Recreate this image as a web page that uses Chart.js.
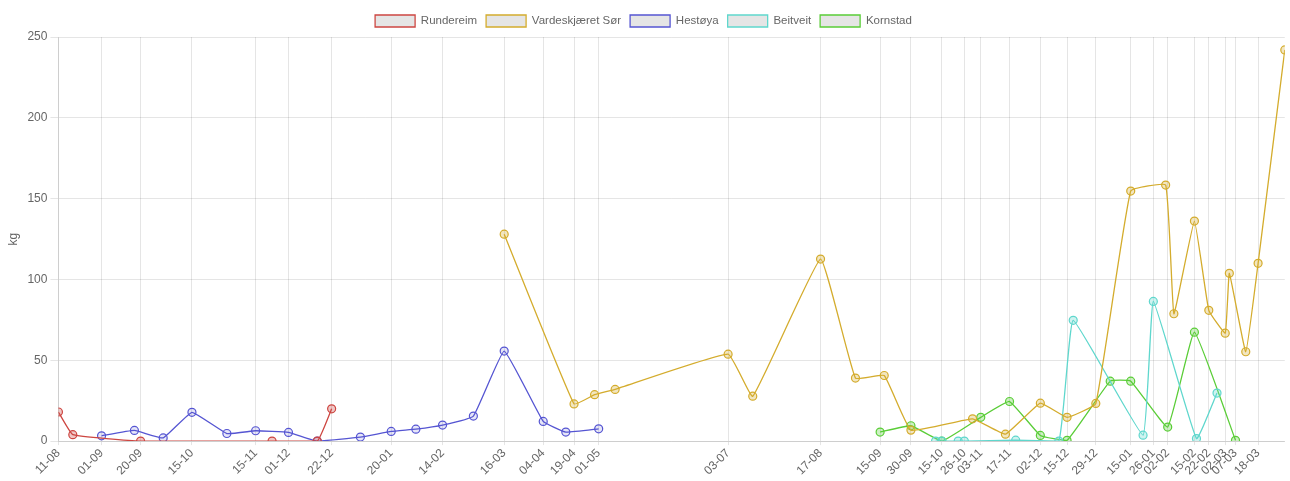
<!DOCTYPE html>
<html>
<head>
<meta charset="utf-8">
<script src="https://cdn.jsdelivr.net/npm/chart.js@4/dist/chart.umd.min.js"></script>
<style>
html,body{margin:0;padding:0;background:#fff;}
#wrap{position:relative;width:1290px;height:481px;}
</style>
</head>
<body>
<div id="wrap"><canvas id="c"></canvas></div>
<script>
const rundereimDates = ['2021-08-11','2021-08-18','2021-09-20','2021-11-23','2021-12-15','2021-12-22'];
const rundereimKg = [18,4,0,0,0,20];

const vardeDates = ['2022-03-16','2022-04-19','2022-04-29','2022-05-09','2022-07-03','2022-07-15','2022-08-17','2022-09-03','2022-09-17','2022-09-30','2022-10-30','2022-11-15','2022-12-02','2022-12-15','2022-12-29','2023-01-15','2023-02-01','2023-02-05','2023-02-15','2023-02-22','2023-03-02','2023-03-04','2023-03-12','2023-03-18','2023-03-31'];
const vardeKg = [128,23,28.7,32,53.8,27.8,112.6,39,40.6,6.8,13.8,4.3,23.5,14.7,23.3,154.7,158.4,78.8,136.1,80.9,66.8,103.8,55.3,110,242];

const hestoyaDates = ['2021-09-01','2021-09-17','2021-10-01','2021-10-15','2021-11-01','2021-11-15','2021-12-01','2021-12-15','2022-01-05','2022-01-20','2022-02-01','2022-02-14','2022-03-01','2022-03-16','2022-04-04','2022-04-15','2022-05-01'];
const hestoyaKg = [3.3,6.6,2,17.8,4.7,6.4,5.4,0,2.5,6,7.4,9.9,15.5,55.7,12.2,5.6,7.6];

const beitveitDates = ['2022-10-12','2022-10-15','2022-10-23','2022-10-26','2022-11-20','2022-12-11','2022-12-18','2023-01-21','2023-01-26','2023-02-16','2023-02-26'];
const beitveitKg = [0,0,0,0,0.6,0,74.7,3.7,86.4,1.6,29.7];

const kornstadDates = ['2022-09-15','2022-09-30','2022-10-15','2022-11-03','2022-11-17','2022-12-02','2022-12-15','2023-01-05','2023-01-15','2023-02-02','2023-02-15','2023-03-07'];
const kornstadKg = [5.6,9.5,0,14.7,24.5,3.5,0.5,37.1,37.1,8.7,67.4,0.5];

const tickDates = ['2021-08-11','2021-09-01','2021-09-20','2021-10-15','2021-11-15','2021-12-01','2021-12-22','2022-01-20','2022-02-14','2022-03-16','2022-04-04','2022-04-19','2022-05-01','2022-07-03','2022-08-17','2022-09-15','2022-09-30','2022-10-15','2022-10-26','2022-11-03','2022-11-17','2022-12-02','2022-12-15','2022-12-29','2023-01-15','2023-01-26','2023-02-02','2023-02-15','2023-02-22','2023-03-02','2023-03-07','2023-03-18'];

const seriesNames = ['Rundereim','Vardeskjæret Sør','Hestøya','Beitveit','Kornstad'];
const seriesColors = ['rgb(205,70,65)','rgb(212,172,45)','rgb(85,85,210)','rgb(95,215,205)','rgb(90,205,55)'];
const seriesFills = ['rgba(205,70,65,0.3)','rgba(212,172,45,0.3)','rgba(85,85,210,0.15)','rgba(95,215,205,0.3)','rgba(90,205,55,0.3)'];

function dayNum(s){ const p=s.split('-'); return Date.UTC(+p[0],+p[1]-1,+p[2])/86400000; }
function label(s){ const p=s.split('-'); return p[2]+'-'+p[1]; }
function pts(dates, vals){ return dates.map((d,i)=>({x:dayNum(d), y:vals[i]})); }

const allSeries = [
  pts(rundereimDates, rundereimKg),
  pts(vardeDates, vardeKg),
  pts(hestoyaDates, hestoyaKg),
  pts(beitveitDates, beitveitKg),
  pts(kornstadDates, kornstadKg)
];
const tickDays = tickDates.map(dayNum);
const tickLabelMap = {};
tickDates.forEach(d=>{ tickLabelMap[dayNum(d)] = label(d); });

Chart.defaults.font.family = '"Liberation Sans", Arial, sans-serif';
Chart.defaults.font.size = 12;
Chart.defaults.color = '#666';

new Chart(document.getElementById('c'), {
  type: 'line',
  data: {
    datasets: allSeries.map((data,i)=>({
      label: seriesNames[i],
      data: data,
      borderColor: seriesColors[i],
      backgroundColor: 'rgba(0,0,0,0.1)',
      pointBackgroundColor: seriesFills[i],
      pointBorderColor: seriesColors[i],
      pointRadius: 4,
      pointBorderWidth: 1.2,
      borderWidth: 1.3,
      tension: 0.1,
      fill: false
    }))
  },
  options: {
    responsive: true,
    maintainAspectRatio: false,
    animation: false,
    layout: { padding: { left: 2, right: 5, top: 6, bottom: 2 } },
    plugins: {
      legend: {
        position: 'top',
        labels: { boxWidth: 40, boxHeight: 12, color: '#666', padding: 9, font: { size: 11.5 } }
      },
      tooltip: { enabled: false }
    },
    scales: {
      x: {
        type: 'linear',
        min: dayNum('2021-08-11'),
        max: dayNum('2023-03-31'),
        afterBuildTicks: (scale)=>{ scale.ticks = tickDays.map(v=>({value:v})); },
        ticks: {
          autoSkip: false,
          minRotation: 45,
          maxRotation: 45,
          padding: 1,
          color: '#666',
          callback: (v)=> tickLabelMap[v] || ''
        },
        grid: { color: 'rgba(0,0,0,0.1)', tickLength: 4 }
      },
      y: {
        min: 0,
        max: 250,
        ticks: { stepSize: 50, color: '#666' },
        title: { display: true, text: 'kg', color: '#666' },
        grid: { color: 'rgba(0,0,0,0.1)' }
      }
    }
  }
});
</script>
</body>
</html>
